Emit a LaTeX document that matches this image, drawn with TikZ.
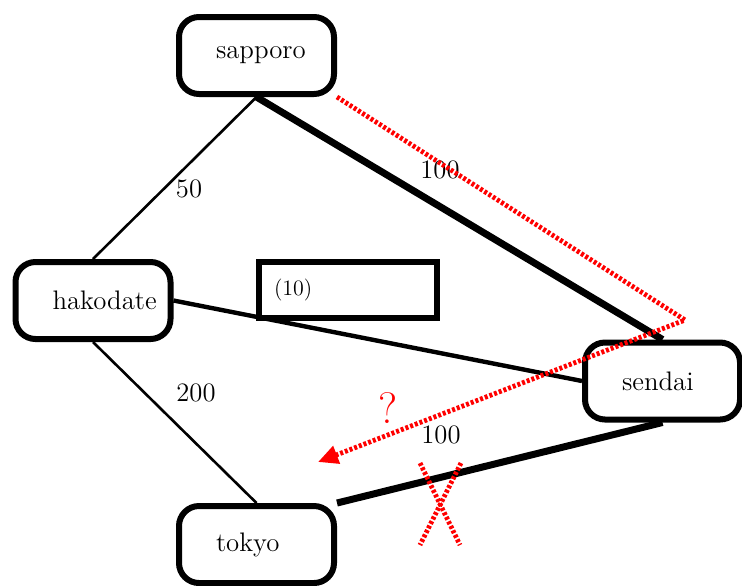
\documentclass[tikz,border=0pt]{standalone}
\usepackage{tikz}
\usetikzlibrary{arrows.meta}

\tikzset{
  city/.style={draw,line width=3pt,rounded corners=10pt,fill=white,
    minimum width=77.5pt,minimum height=38.5pt,text width=40.5pt,
    inner xsep=18.5pt,align=left,font=\fontsize{13.4}{16}\selectfont},
  costbox/.style={draw,rectangle,line width=3pt,minimum width=89pt,
    minimum height=28pt,text width=74pt,inner xsep=7.5pt,align=left,
    font=\fontsize{11}{13}\selectfont},
  weight/.style={font=\fontsize{13.3}{16}\selectfont},
  redline/.style={red,line width=2.4pt,dash pattern=on 1.5pt off 1pt}
}

\begin{document}
\begin{tikzpicture}[x=0.5pt,y=-0.5pt]
\useasboundingbox (0,0) rectangle (742,585);

\foreach \n/\x/\y in {sapporo/256.5/55.5, hakodate/93/300.5, sendai/662.5/381, tokyo/256.5/544.5}
  \node[city] (\n) at (\x,\y) {\n};

\node[costbox] (cost) at (348,290) {(10)};

\foreach \s/\t/\w in {sapporo.south/hakodate.north/1.3pt, hakodate.south/tokyo.north/1.3pt,
                      hakodate.east/sendai.west/2.2pt, sapporo.south/sendai.north/3.5pt,
                      tokyo.north east/sendai.south/3.5pt}
  \draw[line width=\w] (\s) -- (\t);

\node[weight] (w50) at (189,189) {50};
\node[weight] (w100a) at (440,170) {100};
\node[weight] (w200) at (196,393) {200};
\node[weight] (w100b) at (441,435) {100};

% guessed detour
\coordinate (turn) at (685,320);
\coordinate (guess) at (318,462);
\draw[redline,-{Triangle[length=10pt,width=9pt]}] (sapporo.south east) -- (turn) -- (guess);
\node[red,font=\fontsize{22}{26}\selectfont] (ask) at (388,408) {?};

% crossed out
\coordinate (xa) at (420,463);
\coordinate (xb) at (460,545);
\coordinate (xc) at (461,463);
\coordinate (xd) at (420,545);
\draw[redline] (xa) -- (xb);
\draw[redline] (xc) -- (xd);

\end{tikzpicture}
\end{document}
